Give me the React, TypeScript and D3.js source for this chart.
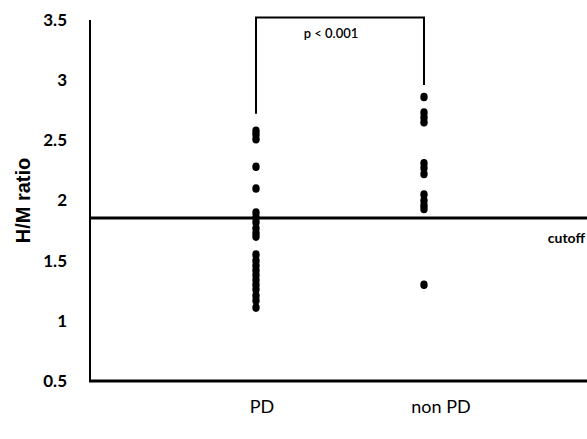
import React from "react";
import * as d3 from "d3";

const categories = ["PD", "non PD"];
const pdValues = [2.58, 2.55, 2.51, 2.28, 2.1, 1.9, 1.86, 1.82, 1.77, 1.73, 1.7, 1.55, 1.5, 1.46, 1.42, 1.38, 1.34, 1.3, 1.26, 1.21, 1.17, 1.11];
const nonPdValues = [2.86, 2.73, 2.69, 2.65, 2.31, 2.27, 2.22, 2.05, 2.0, 1.96, 1.93, 1.3];
const yTicks = [0.5, 1, 1.5, 2, 2.5, 3, 3.5];
const cutoff = 1.855;
const pLabel = "p < 0.001";
const bracketTop = 3.52;
const bracketEnds = [2.72, 2.96];

const W = 587;
const H = 439;

export default function App() {
  const y = d3.scaleLinear().domain([0.5, 3.5]).range([381, 20]);
  const x = d3.scalePoint<string>().domain(categories).range([256, 424]);
  const series = [pdValues, nonPdValues];
  const labelShift = [6, 17];
  const tickFont = "Lato, 'Open Sans', sans-serif";
  return (
    <svg width={W} height={H} style={{ position: "absolute", left: 0, top: 0, background: "#fff" }}>
      <rect width={W} height={H} fill="#fff" />
      {/* y axis */}
      <line x1={90} x2={90} y1={y(3.5)} y2={y(0.5)} stroke="#000" strokeWidth={2} />
      <line x1={89} x2={W} y1={y(0.5)} y2={y(0.5)} stroke="#000" strokeWidth={3} />
      {yTicks.map((t) => (
        <text key={t} x={67} y={y(t)} dy="0.35em" textAnchor="end" fontFamily={tickFont} fontWeight={700} fontSize={17}>
          {t}
        </text>
      ))}
      <text transform={`translate(23,${(y(3.5) + y(0.5)) / 2}) rotate(-90)`} textAnchor="middle" dy="0.35em"
        fontFamily="'Liberation Sans', Arial, sans-serif" fontWeight={700} fontSize={20}>
        H/M ratio
      </text>
      {/* cutoff */}
      <line x1={89} x2={W} y1={y(cutoff)} y2={y(cutoff)} stroke="#000" strokeWidth={3} />
      <text x={585} y={y(cutoff) + 25} textAnchor="end" fontFamily={tickFont} fontWeight={700} fontSize={14}>cutoff</text>
      {/* bracket */}
      <path d={`M${x("PD")},${y(bracketEnds[0])} V${y(bracketTop)} H${x("non PD")} V${y(bracketEnds[1])}`} fill="none" stroke="#000" strokeWidth={2} />
      <text x={(x("PD")! + x("non PD")!) / 2 - 9} y={38} textAnchor="middle" fontFamily={tickFont} fontSize={13} fontWeight={600}>{pLabel}</text>
      {/* dots */}
      {series.map((vals, i) =>
        vals.map((v, j) => (
          <ellipse key={`${i}-${j}`} cx={x(categories[i])} cy={y(v)} rx={3.7} ry={4.3} fill="#000" />
        ))
      )}
      {/* category labels */}
      {categories.map((c, i) => (
        <text key={c} x={x(c)! + labelShift[i]} y={413} textAnchor="middle" fontFamily={tickFont} fontSize={18}>{c}</text>
      ))}
    </svg>
  );
}
